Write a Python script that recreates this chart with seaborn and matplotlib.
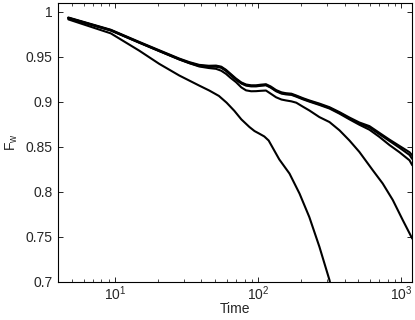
import numpy as np
import pandas as pd
import matplotlib
matplotlib.use("Agg")
import matplotlib.pyplot as plt
import seaborn as sns

# top bundle, curve 1
t_a1 = [4.7, 9.3, 14.7, 20.3, 28, 33, 38.6, 45, 50.6, 55, 59.4, 64, 69.8, 76, 82, 89, 96.4,
        104, 113, 122, 133, 145, 156, 170, 184, 205, 227, 267, 314, 369, 433, 508, 597,
        701, 824, 968, 1138, 1190]
f_a1 = [0.9936, 0.9800, 0.9665, 0.9572, 0.9480, 0.9440, 0.9410, 0.9400, 0.9402, 0.9390,
        0.9355, 0.9310, 0.9258, 0.9215, 0.9192, 0.9183, 0.9183, 0.9190, 0.9195, 0.9170,
        0.9130, 0.9105, 0.9095, 0.9090, 0.9070, 0.9040, 0.9015, 0.8980, 0.8940, 0.8885,
        0.8825, 0.8770, 0.8730, 0.8655, 0.8580, 0.8510, 0.8440, 0.8405]

# top bundle, curve 2
f_a2 = [0.9932, 0.9796, 0.9660, 0.9567, 0.9475, 0.9434, 0.9403, 0.9393, 0.9395, 0.9383,
        0.9348, 0.9302, 0.9250, 0.9208, 0.9185, 0.9176, 0.9176, 0.9183, 0.9188, 0.9162,
        0.9122, 0.9097, 0.9088, 0.9083, 0.9063, 0.9033, 0.9008, 0.8972, 0.8932, 0.8877,
        0.8815, 0.8760, 0.8715, 0.8640, 0.8565, 0.8490, 0.8410, 0.8365]

# top bundle, curve 3
f_a3 = [0.9928, 0.9792, 0.9656, 0.9563, 0.9471, 0.9430, 0.9398, 0.9388, 0.9390, 0.9378,
        0.9343, 0.9297, 0.9245, 0.9203, 0.9180, 0.9171, 0.9171, 0.9178, 0.9183, 0.9157,
        0.9117, 0.9091, 0.9082, 0.9077, 0.9057, 0.9027, 0.9002, 0.8965, 0.8925, 0.8868,
        0.8805, 0.8745, 0.8690, 0.8610, 0.8520, 0.8440, 0.8350, 0.8295]

# curve ending near 0.75
t_b = [4.7, 9.3, 14.7, 20.3, 28, 33, 38.6, 45, 50.6, 55, 59.4, 64, 69.8, 76, 82, 89, 96.4,
       104, 113, 122, 133, 145, 156, 170, 184, 205, 227, 267, 314, 369, 433, 508, 630,
       739, 869, 1021, 1190]
f_b = [0.9930, 0.9793, 0.9658, 0.9563, 0.9470, 0.9428, 0.9392, 0.9375, 0.9366, 0.9345,
       0.9310, 0.9265, 0.9218, 0.9160, 0.9127, 0.9117, 0.9118, 0.9122, 0.9125, 0.9090,
       0.9050, 0.9025, 0.9015, 0.9005, 0.8990, 0.8945, 0.8904, 0.8830, 0.8775, 0.8683,
       0.8570, 0.8443, 0.8240, 0.8093, 0.7910, 0.7686, 0.7480]

# fast-dropping curve
t_c = [4.7, 9.3, 14.7, 20.3, 28, 38.6, 45.4, 53, 60, 67.9, 76, 86.6, 94, 101.6, 110, 118,
       128, 140, 165, 194, 227, 267, 314, 340]
f_c = [0.9915, 0.9760, 0.9568, 0.9421, 0.9292, 0.9180, 0.9125, 0.9065, 0.8990, 0.8900,
       0.8805, 0.8720, 0.8675, 0.8646, 0.8615, 0.8570, 0.8470, 0.8360, 0.8203, 0.7980,
       0.7720, 0.7390, 0.7020, 0.6750]

curves = {"a1": (t_a1, f_a1), "a2": (t_a1, f_a2), "a3": (t_a1, f_a3),
          "b": (t_b, f_b), "c": (t_c, f_c)}
rows = []
for name, (tt, ff) in curves.items():
    for x, y in zip(tt, ff):
        rows.append({"Time": x, "Fw": y, "curve": name})
df = pd.DataFrame(rows)

sns.set_style("ticks")
plt.rcParams["font.family"] = ["Liberation Sans", "DejaVu Sans"]
plt.rcParams["mathtext.fontset"] = "custom"
plt.rcParams["mathtext.rm"] = "Liberation Sans"
plt.rcParams["mathtext.it"] = "Liberation Sans:italic"

fig = plt.figure(figsize=(4.15, 3.2), dpi=100)
ax = fig.add_axes([0.1405, 0.119, 0.853, 0.8725])

sns.lineplot(data=df, x="Time", y="Fw", units="curve", estimator=None, sort=False,
             color="black", linewidth=1.5, ax=ax)

ax.set_xscale("log")
ax.set_xlim(4, 1190)
ax.set_ylim(0.7, 1.01)
ax.set_yticks([0.7, 0.75, 0.8, 0.85, 0.9, 0.95, 1.0])
ax.set_yticklabels(["0.7", "0.75", "0.8", "0.85", "0.9", "0.95", "1"])
ax.set_xticks([10, 100, 1000])
ax.set_xticklabels([r"$\mathregular{10^1}$", r"$\mathregular{10^2}$", r"$\mathregular{10^3}$"])

for s in ax.spines.values():
    s.set_visible(True)
    s.set_linewidth(0.8)
    s.set_color("black")
ax.tick_params(which="both", direction="in", top=True, right=True, labelsize=10, color="black")
ax.tick_params(which="major", length=3.5, width=0.6, pad=4)
ax.tick_params(axis="x", which="major", pad=2)
ax.tick_params(which="minor", length=2, width=0.5)

ax.set_xlabel("Time", fontsize=10, labelpad=-1)
ax.set_ylabel(r"F$_\mathregular{w}$", fontsize=10, labelpad=4)

fig.savefig("out.png", dpi=100)
